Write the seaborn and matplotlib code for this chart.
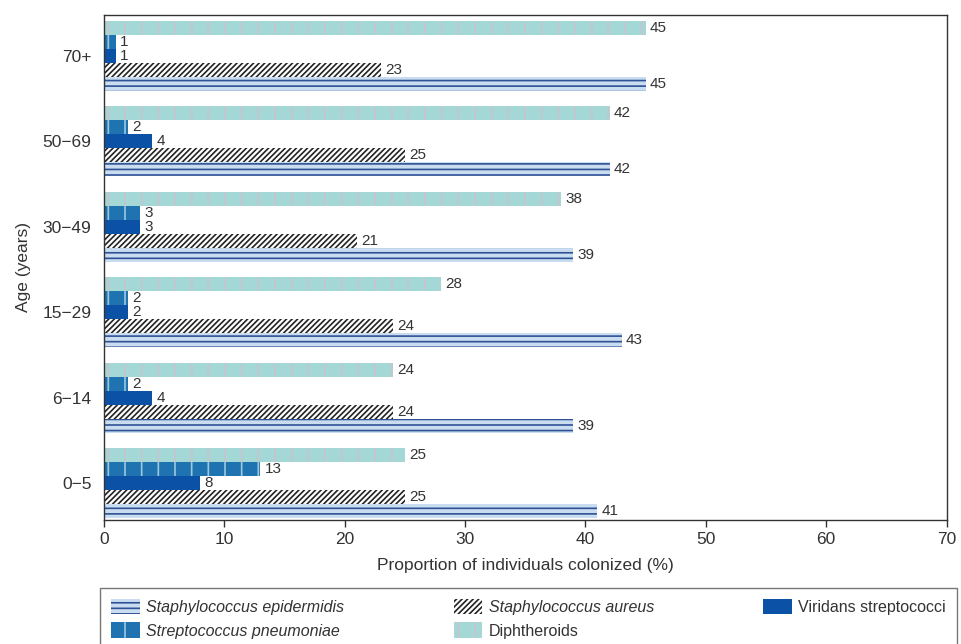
import matplotlib
matplotlib.use("Agg")
import matplotlib.pyplot as plt
import seaborn as sns
import pandas as pd
from matplotlib.patches import Patch

# Colonization by age group (%)
age_groups = ["70+", "50\u221269", "30\u221249", "15\u221229", "6\u221214", "0\u22125"]
organisms = ["Diphtheroids", "Streptococcus pneumoniae", "Viridans streptococci",
             "Staphylococcus aureus", "Staphylococcus epidermidis"]
diphtheroids = [45, 42, 38, 28, 24, 25]
s_pneumoniae = [1, 2, 3, 2, 2, 13]
viridans = [1, 4, 3, 2, 4, 8]
s_aureus = [23, 25, 21, 24, 24, 25]
s_epidermidis = [45, 42, 39, 43, 39, 41]

series = [diphtheroids, s_pneumoniae, viridans, s_aureus, s_epidermidis]
rows = []
for org, vals in zip(organisms, series):
    for age, v in zip(age_groups, vals):
        rows.append({"Age": age, "Organism": org, "Value": v})
df = pd.DataFrame(rows)

sns.set_style("white")
plt.rcParams["font.family"] = ["Liberation Sans", "DejaVu Sans"]
plt.rcParams["hatch.linewidth"] = 1.2

styles = {
    "Diphtheroids": dict(face="#a3d8d6", hatch="|", hcol="#c8c4cc"),
    "Streptococcus pneumoniae": dict(face="#1e73b0", hatch="|", hcol="#9cc8de"),
    "Viridans streptococci": dict(face="#0b52a6", hatch="", hcol="#0b52a6"),
    "Staphylococcus aureus": dict(face="#ffffff", hatch="//////", hcol="#222222"),
    "Staphylococcus epidermidis": dict(face="#c9dcf0", hatch="---", hcol="#2f5296"),
}
text_col = "#333333"

fig = plt.figure(figsize=(9.62, 6.44), dpi=100)
ax = fig.add_axes([0.108, 0.193, 0.876, 0.784])

sns.barplot(data=df, y="Age", x="Value", hue="Organism", order=age_groups,
            hue_order=organisms, orient="h", width=0.82, ax=ax, legend=False,
            saturation=1)

for org, cont in zip(organisms, ax.containers):
    st = styles[org]
    for bar in cont:
        bar.set_facecolor(st["face"])
        bar.set_edgecolor(st["hcol"])
        bar.set_hatch(st["hatch"])
        bar.set_linewidth(0)
    ax.bar_label(cont, fmt="%d", padding=3, fontsize=11, color=text_col)

ax.set_xlim(0, 70)
ax.set_ylim(5.43, -0.48)
ax.set_xticks(range(0, 71, 10))
ax.set_xlabel("Proportion of individuals colonized (%)", fontsize=12.5,
              color=text_col, labelpad=8)
ax.set_ylabel("Age (years)", fontsize=12.5, color=text_col, labelpad=8)
ax.tick_params(axis="x", labelsize=12.5, colors=text_col, length=5, width=1,
               direction="out", bottom=True)
ax.tick_params(axis="y", labelsize=12.5, colors=text_col, length=0, pad=9)
for sp in ax.spines.values():
    sp.set_color("#333333")
    sp.set_linewidth(1)

# Legend below the plot
legend_order = ["Staphylococcus epidermidis", "Streptococcus pneumoniae",
                "Staphylococcus aureus", "Diphtheroids", "Viridans streptococci"]
handles = []
for org in legend_order:
    st = styles[org]
    handles.append(Patch(facecolor=st["face"], edgecolor=st["hcol"],
                         hatch=st["hatch"], linewidth=0, label=org))
leg = fig.legend(handles=handles, ncol=3, loc="upper left",
                 bbox_to_anchor=(0.104, 0.087, 0.891, 0.0), mode="expand",
                 borderaxespad=0, frameon=True, fancybox=False,
                 edgecolor="#555555", fontsize=11.5, handlelength=1.8,
                 handleheight=1.1, handletextpad=0.4, borderpad=0.7,
                 labelspacing=0.45, columnspacing=2.0)
leg.get_frame().set_linewidth(1)
italic = {"Staphylococcus epidermidis", "Streptococcus pneumoniae", "Staphylococcus aureus"}
for t in leg.get_texts():
    t.set_color(text_col)
    if t.get_text() in italic:
        t.set_fontstyle("italic")

fig.savefig("out.png", dpi=100)
